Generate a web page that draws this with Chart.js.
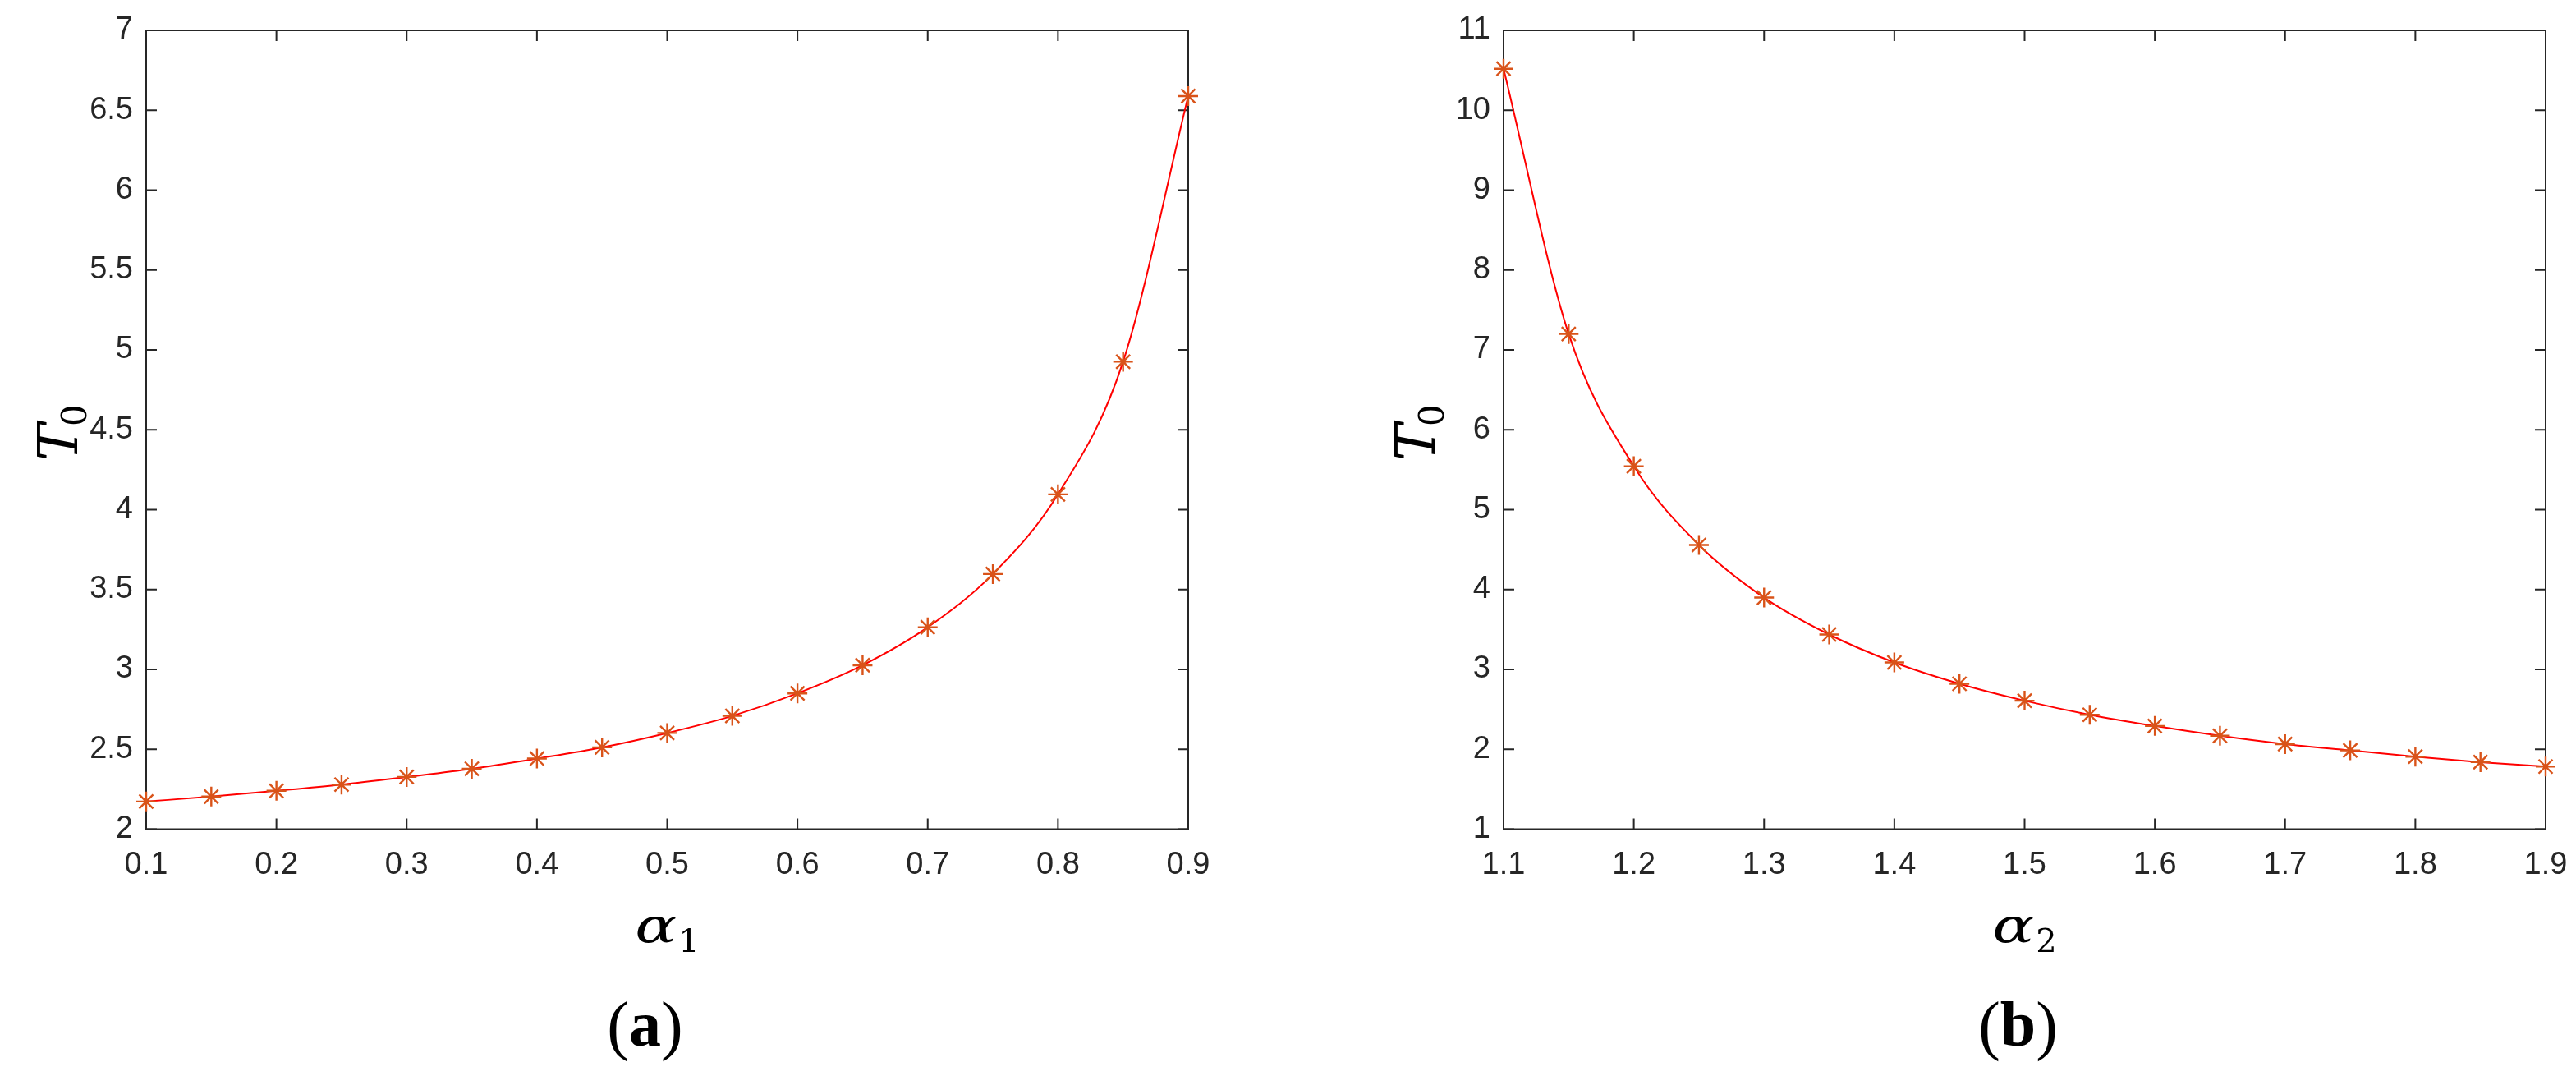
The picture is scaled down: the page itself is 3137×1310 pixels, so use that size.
<!DOCTYPE html>
<html><head><meta charset="utf-8">
<script src="https://cdn.jsdelivr.net/npm/chart.js@4.4.0/dist/chart.umd.min.js"></script>
<style>
html,body{margin:0;padding:0;background:#fff;overflow:hidden}
#wrapA{position:absolute;left:0;top:0;width:1568px;height:1310px}
#wrapB{position:absolute;left:1568px;top:0;width:1569px;height:1310px}
</style></head><body>
<div id="wrapA"><canvas id="cA" width="1568" height="1310"></canvas></div>
<div id="wrapB"><canvas id="cB" width="1569" height="1310"></canvas></div>
<script>
// ---- data (panel a) ----
const alpha1 = [0.10,0.15,0.20,0.25,0.30,0.35,0.40,0.45,0.50,0.55,0.60,0.65,0.70,0.75,0.80,0.85,0.90];
const T0a    = [2.173,2.204,2.240,2.279,2.327,2.378,2.442,2.512,2.602,2.709,2.850,3.026,3.264,3.597,4.096,4.926,6.589];
const xTicksA = [0.1,0.2,0.3,0.4,0.5,0.6,0.7,0.8,0.9];
const xLabelsA = ['0.1','0.2','0.3','0.4','0.5','0.6','0.7','0.8','0.9'];
const yTicksA = [2,2.5,3,3.5,4,4.5,5,5.5,6,6.5,7];
const yLabelsA = ['2','2.5','3','3.5','4','4.5','5','5.5','6','6.5','7'];
// ---- data (panel b) ----
const alpha2 = [1.10,1.15,1.20,1.25,1.30,1.35,1.40,1.45,1.50,1.55,1.60,1.65,1.70,1.75,1.80,1.85,1.90];
const T0b    = [10.52,7.199,5.544,4.558,3.899,3.437,3.087,2.820,2.608,2.432,2.292,2.169,2.065,1.986,1.908,1.839,1.784];
const xTicksB = [1.1,1.2,1.3,1.4,1.5,1.6,1.7,1.8,1.9];
const xLabelsB = ['1.1','1.2','1.3','1.4','1.5','1.6','1.7','1.8','1.9'];
const yTicksB = [1,2,3,4,5,6,7,8,9,10,11];
const yLabelsB = ['1','2','3','4','5','6','7','8','9','10','11'];

const AXIS = '#262626';
const TICKFONT = {family:'"Liberation Sans", Arial, sans-serif', size:38};

const framePlugin = {
  id:'frame',
  beforeDatasetsDraw(chart, args, o){
    const {ctx, chartArea:{left,right,top,bottom}, scales:{x,y}} = chart;
    ctx.save();
    ctx.strokeStyle = AXIS; ctx.lineWidth = 2;
    ctx.strokeRect(left, top, right-left, bottom-top);
    ctx.beginPath();
    const tl = 13;
    x.ticks.forEach(t=>{const p=x.getPixelForValue(t.value);
      ctx.moveTo(p,bottom); ctx.lineTo(p,bottom-tl); ctx.moveTo(p,top); ctx.lineTo(p,top+tl);});
    y.ticks.forEach(t=>{const p=y.getPixelForValue(t.value);
      ctx.moveTo(left,p); ctx.lineTo(left+tl,p); ctx.moveTo(right,p); ctx.lineTo(right-tl,p);});
    ctx.stroke();
    ctx.restore();
  },
  afterDraw(chart, args, o){
    const {ctx, chartArea:{left,right,top,bottom}} = chart;
    ctx.save();
    ctx.fillStyle = '#000';
    ctx.textBaseline = 'alphabetic';
    ctx.textAlign = 'left';
    const mainF = 'italic 58px "DejaVu Serif", serif';
    const subF = '40px "DejaVu Serif", serif';
    // x title: alpha stretched to a wide math-italic look
    ctx.font = mainF;
    const mm = ctx.measureText(o.xMain);
    const sx = 1.3;
    const wm = mm.width * sx;
    ctx.font = subF; const ws = ctx.measureText(o.xSub).width;
    const cx = (left+right)/2;
    let x0 = cx - (wm+ws+2)/2;
    ctx.save(); ctx.translate(x0, 1147); ctx.scale(sx, 1);
    ctx.font = mainF; ctx.fillText(o.xMain, 0, 0);
    ctx.restore();
    ctx.font = subF; ctx.fillText(o.xSub, x0+wm+2, 1159);
    // y title (rotated)
    ctx.save();
    const cy = (top+bottom)/2 + 2;
    ctx.translate(left - 84, cy);
    ctx.rotate(-Math.PI/2);
    const yMainF = 'italic 68px "DejaVu Serif", serif';
    const ySubF = '42px "DejaVu Serif", serif';
    ctx.font = yMainF; const wmy = ctx.measureText(o.yMain).width;
    ctx.font = ySubF; const wsy = ctx.measureText(o.ySub).width;
    let y0 = -(wmy+wsy)/2;
    ctx.font = yMainF; ctx.fillText(o.yMain, y0, 0);
    ctx.font = ySubF; ctx.fillText(o.ySub, y0+wmy-3, 11);
    ctx.restore();
    // panel label
    const pcx = cx + o.panelShift;
    const pF = '80px "Liberation Serif", "Times New Roman", serif';
    const bF = 'bold 78px "Liberation Serif", "Times New Roman", serif';
    ctx.font = pF; const wp1 = ctx.measureText('(').width, wp2 = ctx.measureText(')').width;
    ctx.font = bF; const wa = ctx.measureText(o.panel).width;
    let px = pcx - (wp1+wa+wp2)/2;
    ctx.font = pF; ctx.fillText('(', px, 1275);
    ctx.font = bF; ctx.fillText(o.panel, px+wp1, 1273);
    ctx.font = pF; ctx.fillText(')', px+wp1+wa, 1275);
    ctx.restore();
  }
};

function makePanel(id, xs, ys, xT, xL, yT, yL, yAxisW, padRight, titles){
  const pts = xs.map((v,i)=>({x:v, y:ys[i]}));
  return new Chart(document.getElementById(id), {
    type:'line',
    data:{datasets:[{
      data:pts,
      borderColor:'#FF0000', borderWidth:2,
      cubicInterpolationMode:'monotone',
      pointStyle:'star', pointRadius:12, pointBorderWidth:2.4,
      pointBorderColor:'#D95319', pointBackgroundColor:'#D95319',
      clip:false, fill:false
    }]},
    options:{
      responsive:false, animation:false, devicePixelRatio:1,
      layout:{padding:{left:0, top:37, right:padRight, bottom:200.5}},
      plugins:{legend:{display:false}, tooltip:{enabled:false}, frame:titles},
      scales:{
        x:{type:'linear', min:xT[0], max:xT[xT.length-1],
           grid:{display:false, drawTicks:false}, border:{display:false},
           afterBuildTicks:s=>{s.ticks = xT.map(v=>({value:v}));},
           afterFit:s=>{s.height=100; s.paddingLeft=0; s.paddingRight=0; s.paddingTop=0; s.paddingBottom=0;},
           ticks:{callback:(v)=>xL[xT.indexOf(v)], color:AXIS, font:TICKFONT, padding:21, maxRotation:0, autoSkip:false}},
        y:{type:'linear', min:yT[0], max:yT[yT.length-1],
           grid:{display:false, drawTicks:false}, border:{display:false},
           afterBuildTicks:s=>{s.ticks = yT.map(v=>({value:v}));},
           afterFit:s=>{s.width=yAxisW; s.paddingLeft=0; s.paddingRight=0; s.paddingTop=0; s.paddingBottom=0;},
           ticks:{callback:(v)=>yL[yT.indexOf(v)], color:AXIS, font:TICKFONT, padding:16, autoSkip:false}}
      }
    },
    plugins:[framePlugin]
  });
}

makePanel('cA', alpha1, T0a, xTicksA, xLabelsA, yTicksA, yLabelsA, 178, 1568-1447,
  {xMain:'α', xSub:'1', yMain:'T', ySub:'0', panel:'a', panelShift:-27});
makePanel('cB', alpha2, T0b, xTicksB, xLabelsB, yTicksB, yLabelsB, 263, 37,
  {xMain:'α', xSub:'2', yMain:'T', ySub:'0', panel:'b', panelShift:-8});
</script>
</body></html>
